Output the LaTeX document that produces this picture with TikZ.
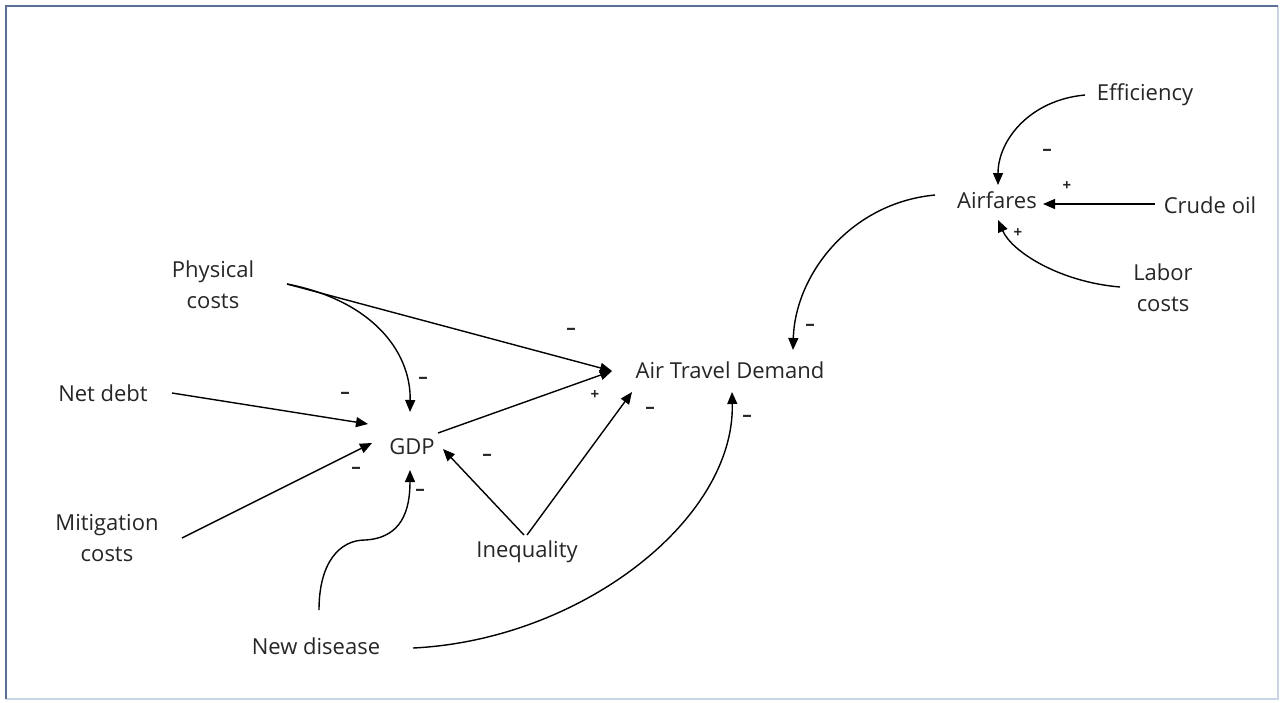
\documentclass[tikz,border=0pt]{standalone}
\usepackage{fontspec}
\setmainfont{Open Sans}
\usetikzlibrary{arrows.meta}
\definecolor{txt}{HTML}{262626}
\definecolor{frameA}{HTML}{5A6E96}
\definecolor{frameB}{HTML}{C9D5E6}
\begin{document}
\begin{tikzpicture}[x=1pt,y=-1pt,
  var/.style={inner sep=0pt,text=txt,font=\fontsize{22}{31}\selectfont,align=center},
  sgn/.style={inner sep=0pt,text=txt,font=\fontsize{19}{22}\selectfont\bfseries},
  pls/.style={inner sep=0pt,text=txt,font=\fontsize{15}{17}\selectfont\bfseries},
  link/.style={line width=1.4pt,-{Triangle[length=12pt,width=10pt]}}]
\useasboundingbox (0,0) rectangle (1281,702);
\fill[white] (0,0) rectangle (1281,702);
\draw[frameB,line width=2pt] (1278,6) -- (1278,699) -- (6,699);
\draw[frameA,line width=2.5pt] (6,699) -- (6,6) -- (1278,6);
% variables
\node[var] (eff) at (1145,95) {Efficiency};
\node[var] (af) at (997,200) {Airfares};
\node[var] (co) at (1210,205) {Crude oil};
\node[var] (lc) at (1163,288) {Labor\\costs};
\node[var] (atd) at (730,370) {Air Travel Demand};
\node[var] (pc) at (213,285) {Physical\\costs};
\node[var] (nd) at (103,393) {Net debt};
\node[var] (gdp) at (412,447) {GDP};
\node[var] (mc) at (107,538) {Mitigation\\costs};
\node[var] (ineq) at (527,552) {Inequality};
\node[var] (ndis) at (316,646) {New disease};
% links
\draw[link] ([shift={(-60,0)}]eff.center) .. controls (1030,100) and (998,140) .. ([shift={(1,-15)}]af.center);
\draw[link] ([shift={(-55,-1)}]co.center) -- ([shift={(46,4)}]af.center);
\draw[link] ([shift={(-43,-1)}]lc.center) .. controls (1060,282) and (1012,252) .. ([shift={(1,20)}]af.center);
\draw[link] ([shift={(-62,-5)}]af.center) .. controls (850,203) and (795,275) .. ([shift={(63,-20)}]atd.center);
\draw[link] ([shift={(74,-1)}]pc.center) -- ([shift={(-118,1)}]atd.center);
\draw[link] ([shift={(74,-1)}]pc.center) .. controls (370,300) and (411,350) .. ([shift={(-2,-35)}]gdp.center);
\draw[link] ([shift={(69,0)}]nd.center) -- ([shift={(-44,-23)}]gdp.center);
\draw[link] ([shift={(75,0)}]mc.center) -- ([shift={(-40,-4)}]gdp.center);
\draw[link] ([shift={(26,-14)}]gdp.center) -- ([shift={(-118,1)}]atd.center);
\draw[link] ([shift={(0,-17)}]ineq.center) -- ([shift={(-98,22)}]atd.center);
\draw[link] ([shift={(-3,-17)}]ineq.center) -- ([shift={(31,2)}]gdp.center);
\draw[link] ([shift={(3,-36)}]ndis.center) .. controls (319,562) and (340,540) .. (365,540) .. controls (402,538) and (410,510) .. ([shift={(-2,23)}]gdp.center);
\draw[link] ([shift={(97,2)}]ndis.center) .. controls (580,640) and (735,520) .. ([shift={(2,22)}]atd.center);
% polarities
\node[sgn] (s1) at (1047,152) {–};
\node[pls] (s2) at (1067,186) {+};
\node[pls] (s3) at (1018,233) {+};
\node[sgn] (s4) at (810,327) {–};
\node[sgn] (s5) at (571,331) {–};
\node[sgn] (s6) at (423,380) {–};
\node[sgn] (s7) at (345,395) {–};
\node[pls] (s8) at (595,395) {+};
\node[sgn] (s9) at (650,410) {–};
\node[sgn] (s10) at (747,418) {–};
\node[sgn] (s11) at (487,457) {–};
\node[sgn] (s12) at (356,470) {–};
\node[sgn] (s13) at (420,492) {–};
\end{tikzpicture}
\end{document}
